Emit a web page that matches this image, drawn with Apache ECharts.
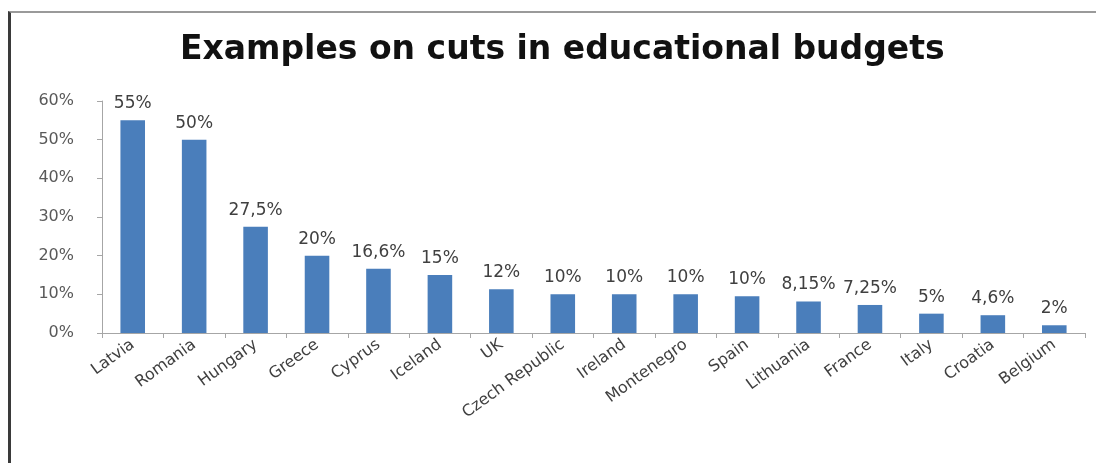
<!DOCTYPE html>
<html>
<head>
<meta charset="utf-8">
<script src="https://cdn.jsdelivr.net/npm/echarts@6/dist/echarts.min.js"></script>
<style>
html,body{margin:0;padding:0;background:#fff;}
#chart{position:absolute;left:0;top:0;width:1096px;height:463px;}
#frame{position:absolute;left:8px;top:11px;width:1090px;height:460px;border-top:2px solid #9a9a9a;border-left:3px solid #3a3a3a;pointer-events:none;box-sizing:border-box;}
</style>
</head>
<body>
<div id="chart"></div>
<div id="frame"></div>
<script>
var titleText = 'Examples on cuts in educational budgets';
var categories = ['Latvia','Romania','Hungary','Greece','Cyprus','Iceland','UK','Czech Republic','Ireland','Montenegro','Spain','Lithuania','France','Italy','Croatia','Belgium'];
var values = [55, 50, 27.5, 20, 16.6, 15, 11.3, 10, 10, 10, 9.5, 8.15, 7.25, 5, 4.6, 2];
var valueLabels = ['55%','50%','27,5%','20%','16,6%','15%','12%','10%','10%','10%','10%','8,15%','7,25%','5%','4,6%','2%'];
var yTicks = {min: 0, max: 60, interval: 10};

var chart = echarts.init(document.getElementById('chart'));
chart.setOption({
  animation: false,
  backgroundColor: 'transparent',
  title: {
    text: titleText,
    left: 175,
    top: 29,
    textStyle: {fontFamily: 'DejaVu Sans', fontWeight: 'bold', fontSize: 33, color: '#111'}
  },
  grid: {left: 102, right: 11, top: 101, bottom: 130},
  xAxis: {
    type: 'category',
    data: categories,
    axisLine: {lineStyle: {color: '#a6a6a6', width: 1}},
    axisTick: {show: true, length: 5, lineStyle: {color: '#a6a6a6'}},
    axisLabel: {rotate: 36, interval: 0, margin: 10, fontFamily: 'DejaVu Sans', fontSize: 16, color: '#404040'}
  },
  yAxis: {
    type: 'value',
    min: yTicks.min, max: yTicks.max, interval: yTicks.interval,
    axisLine: {show: true, lineStyle: {color: '#a6a6a6', width: 1}},
    axisTick: {show: true, length: 5, lineStyle: {color: '#a6a6a6'}},
    splitLine: {show: false},
    axisLabel: {formatter: '{value}%', margin: 28, fontFamily: 'DejaVu Sans', fontSize: 16, color: '#595959'}
  },
  series: [{
    type: 'bar',
    data: values,
    barWidth: '40%',
    itemStyle: {color: '#4a7ebb'},
    label: {
      show: true,
      position: 'top',
      distance: 8,
      fontFamily: 'DejaVu Sans',
      fontSize: 17,
      color: '#404040',
      formatter: function (p) { return valueLabels[p.dataIndex]; }
    }
  }]
});
</script>
</body>
</html>
